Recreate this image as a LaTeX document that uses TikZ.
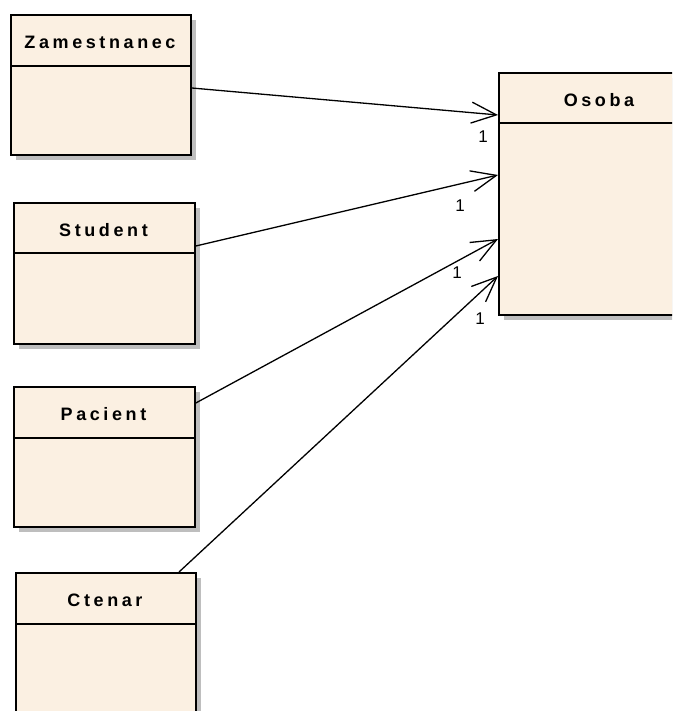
\documentclass[tikz,border=0pt]{standalone}
\usepackage{fontspec}
\setmainfont{Liberation Sans}
\newfontfamily\titlefont[LetterSpace=20]{Liberation Sans Bold}
\usetikzlibrary{arrows.meta,calc}
\definecolor{classfill}{RGB}{251,240,226}
\definecolor{shadowgray}{RGB}{190,190,190}
\tikzset{
  classbox/.style={draw=black, line width=1.8pt, fill=classfill, rectangle,
    anchor=north west, inner sep=0pt},
  classshadow/.style={fill=shadowgray, draw=none},
  classtitle/.style={font=\titlefont\fontsize{18}{22}\selectfont},
  mult/.style={font=\fontsize{17}{20}\selectfont},
  assoc/.style={line width=1.3pt, -{Straight Barb[length=25pt,width=21pt,line width=1.3pt]}},
}
% draws a class box: #1 name, #2 left, #3 top, #4 right, #5 bottom, #6 header line, #7 title
\newcommand{\umlclass}[7]{%
  \fill[classshadow] (#2+6,#3+6) rectangle (#4+6,#5+6);
  \node[classbox, minimum width=#4-#2, minimum height=#5-#3] (#1) at (#2,#3) {};
  \draw[line width=1.5pt] (#2,#6) -- (#4,#6);
  \node[classtitle] (#1-title) at ({(#2+#4)/2},{(#3+#6)/2+2.5}) {#7};
}
\begin{document}
\begin{tikzpicture}[x=1pt,y=-1pt]
\useasboundingbox (0,0) rectangle (672,711);
\clip (0,0) rectangle (672,711);

\umlclass{zam}{10}{14}{190}{154}{66}{Zamestnanec}
\umlclass{stud}{13}{202}{194}{343}{253}{Student}
\umlclass{pac}{13}{386}{194}{526}{438}{Pacient}
\umlclass{cten}{15}{572}{195}{740}{624}{Ctenar}
\umlclass{osoba}{498}{72}{700}{314}{123}{Osoba}

% connector end points on the class borders
\coordinate (zamE)  at ($(zam.north east)+(0,74)$);
\coordinate (studE) at ($(stud.north east)+(0,44)$);
\coordinate (pacE)  at ($(pac.north east)+(0,17)$);
\coordinate (cenN)  at ($(cten.north west)+(164,0)$);
\coordinate (osA) at ($(osoba.north west)+(0,43)$);
\coordinate (osB) at ($(osoba.north west)+(0,103)$);
\coordinate (osC) at ($(osoba.north west)+(0,167)$);
\coordinate (osD) at ($(osoba.north west)+(0,204)$);

\draw[assoc] (zamE)  -- (osA);
\draw[assoc] (studE) -- (osB);
\draw[assoc] (pacE)  -- (osC);
\draw[assoc] (cenN)  -- (osD);

\node[mult] (m1) at (483,137) {1};
\node[mult] (m2) at (460,206) {1};
\node[mult] (m3) at (457,273) {1};
\node[mult] (m4) at (480,319) {1};
\end{tikzpicture}
\end{document}
